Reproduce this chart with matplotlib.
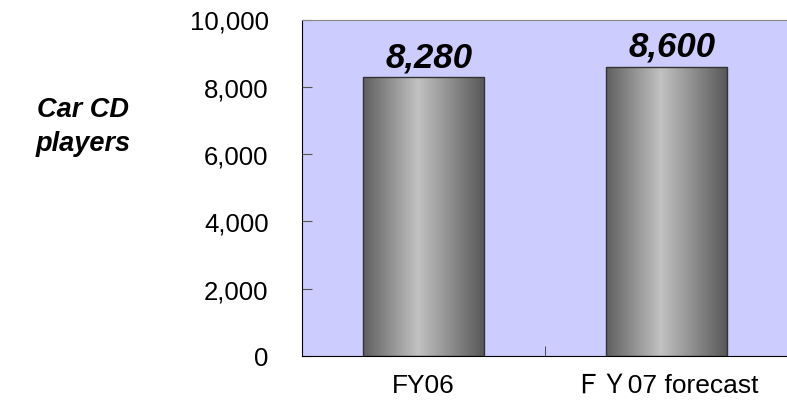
import matplotlib
matplotlib.use("Agg")
import matplotlib.pyplot as plt
import numpy as np
from matplotlib.colors import LinearSegmentedColormap
from matplotlib.ticker import FuncFormatter

categories = ["FY06", "ＦＹ07 forecast"]
values = [8280, 8600]
value_labels = ["8,280", "8,600"]
y_ticks = [0, 2000, 4000, 6000, 8000, 10000]
y_title = "Car CD\nplayers"

plt.rcParams["font.family"] = ["Liberation Sans", "Noto Sans CJK JP", "DejaVu Sans"]

fig = plt.figure(figsize=(7.87, 4.02), dpi=100)
ax = fig.add_axes([302 / 787, 45 / 402, 486 / 787, 336.5 / 402])
ax.set_facecolor("#ccccfe")

x = np.arange(len(categories))
bars = ax.bar(x, values, width=0.5, color="none", edgecolor="#333333",
              linewidth=1.0, zorder=3)

# cylinder-like shading, clipped to each bar
shade = LinearSegmentedColormap.from_list(
    "bar_shade", [(0.0, "#5f5f5f"), (0.45, "#c2c2c2"), (1.0, "#575757")])
grad = np.linspace(0, 1, 256).reshape(1, -1)
for bar in bars:
    bx, by = bar.get_x(), bar.get_y()
    bw, bh = bar.get_width(), bar.get_height()
    im = ax.imshow(grad, cmap=shade, aspect="auto",
                   extent=[bx, bx + bw, by, by + bh], zorder=2)
    im.set_clip_path(bar)

for xi, v, lab in zip(x, values, value_labels):
    ax.annotate(lab, (xi, v), xytext=(4, 8), textcoords="offset points",
                ha="center", va="baseline", fontsize=25,
                fontweight="bold", fontstyle="italic")

ax.set_xlim(-0.5, 1.5)
ax.set_ylim(0, 10000)
ax.set_yticks(y_ticks)
ax.yaxis.set_major_formatter(FuncFormatter(lambda v, p: f"{int(v):,}"))
ax.tick_params(axis="y", direction="in", length=7, color="#555555",
               labelsize=18.5, pad=24)

ax.set_xticks(x)
ax.set_xticklabels(categories)
ax.tick_params(axis="x", which="major", length=0, labelsize=19, pad=12)
ax.set_xticks([0.5], minor=True)
ax.tick_params(axis="x", which="minor", direction="in", length=7,
               color="#333333")

ax.spines["left"].set_color("black")
ax.spines["bottom"].set_color("black")
ax.spines["top"].set_color("#888888")
ax.spines["right"].set_visible(False)

fig.text(83 / 787, 1 - 127 / 402, y_title, ha="center", va="center",
         fontsize=19.5, fontweight="bold", fontstyle="italic",
         linespacing=1.4)

fig.savefig("out.png", dpi=100)
